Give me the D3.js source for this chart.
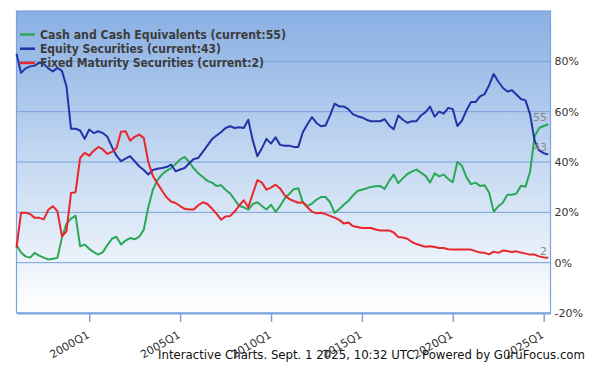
<!DOCTYPE html>
<html>
<head>
<meta charset="utf-8">
<script src="https://cdn.jsdelivr.net/npm/d3@7"></script>
<style>
  body { margin: 0; background: #fff; }
  svg { display: block; font-family: "DejaVu Sans", sans-serif; }
</style>
</head>
<body>
<div id="chart"></div>
<script>
const width = 600, height = 365;
const plotLeft = 16.5, plotRight = 550.5, plotTop = 11, plotBottom = 313;

// quarterly, 1996Q1 .. 2025Q2
const startYear = 1996;
const quarters = d3.range(118).map(i => (startYear + Math.floor(i / 4)) + "Q" + (i % 4 + 1));

const cash = [7,4,2.5,2,3.9,2.8,2,1.3,1.6,1.9,
  10,15.5,17.5,18.7,6.5,7.2,5.5,4.2,3.2,4.2,
  7,9.5,10.3,7.2,8.8,9.8,9.3,10.3,13.1,22,
  29,32.8,35,36.5,37.6,39.2,41,42,40,37.5,
  35.5,34,32.5,31.8,30.5,30.8,29,27.5,25,22.5,
  22,21.1,23.3,24,22.5,21.1,23,20.2,22.5,25.5,
  27.3,29.2,29.6,24,22.5,23.5,25,26.1,26.1,24,
  19.8,21.2,23,24.5,26.6,28.5,29,29.5,30.1,30.4,
  30.5,29.3,32.5,35,31.6,33.5,35.2,36.2,37,35.8,
  34.5,31.8,35.5,34.3,35,33.2,32,40,38.5,34,
  31.2,31.8,30.5,30.8,27.8,20.3,22.4,23.8,27,27,
  27.5,30.6,30.2,36,50.2,53.5,54.3,55];

const equity = [83,75.4,77.2,78,78.3,79.5,79,77.2,76,77.4,
  76.2,70,53.2,53.2,52.5,49.2,52.9,51.5,52.2,51.5,
  50,46,42.5,40.3,41.3,42.3,40.3,38.3,36.8,35,
  36.8,37.3,37.6,38,39,36.3,37,37.6,39.5,41.2,
  41.6,44,46.5,49,50.5,51.8,53.5,54.2,53.5,53.8,
  53.5,56.8,48.5,42.3,45.5,49.2,47.3,49.8,46.8,46.5,
  46.5,46,46,51.8,55,57.8,55.5,54.2,54.5,58.5,
  63.2,62.1,62.1,61,59,58.2,57.7,56.8,56.2,56.2,
  56.2,57,54.5,53,58.5,56.8,55.6,56.2,56.2,58.5,
  59.8,62,58,60,59.2,61.5,61,54.3,56.4,60.5,
  63.8,63.8,66.1,67,70.5,75,72,69.5,68,68.5,
  66.8,65,64.5,59,48.5,44.6,43.5,43];

const fixed = [6,19.8,19.8,19.3,17.8,17.8,17.2,21,22.4,20.5,
  10.5,12.5,27.7,28,41.6,43.6,42.5,44.5,46,45,
  43.2,44,45.5,52,52.2,48.5,50,50.9,49.6,40,
  34.5,31.5,28.7,26,24.3,23.7,22.5,21.4,21.1,21.1,
  22.8,24,23.3,21.5,19.5,17.1,18.3,18.5,20.3,22.7,
  24.8,22,27.5,32.8,31.8,29,29.8,31,29.5,26.8,
  25.3,24.5,23.8,24,22,20.3,19.6,19.8,19.3,18.6,
  17.9,17,15.6,16,14.6,14.2,13.8,13.8,13.8,13.2,
  12.8,12.8,12.8,12,10.2,10,9.5,8.2,7.4,6.8,
  6.3,6.5,6.2,5.8,5.8,5.3,5.2,5.2,5.2,5.2,
  5.2,4.6,4,3.9,3.3,4.4,3.9,4.8,4.6,4.2,
  4.5,4,3.6,3.2,3.2,2.5,2.1,2];

const seriesNames = ["Cash and Cash Equivalents", "Equity Securities", "Fixed Maturity Securities"];
const seriesColors = ["#2aa855", "#2233a8", "#e8272b"];
const seriesValues = [cash, equity, fixed];
const yTicks = [-20, 0, 20, 40, 60, 80];
const xTickLabels = ["2000Q1", "2005Q1", "2010Q1", "2015Q1", "2020Q1", "2025Q1"];
const footer = "Interactive Charts. Sept. 1 2025, 10:32 UTC. Powered by GuruFocus.com";

const x = d3.scaleLinear().domain([0, 117.5]).range([plotLeft, plotRight]);
const y = d3.scaleLinear().domain([-20, 100]).range([plotBottom, plotTop]);

const svg = d3.select("#chart").append("svg")
  .attr("width", width).attr("height", height);

const grad = svg.append("defs").append("linearGradient")
  .attr("id", "bg").attr("x1", 0).attr("y1", 0).attr("x2", 0).attr("y2", 1);
grad.append("stop").attr("offset", "0%").attr("stop-color", "#89afe2");
grad.append("stop").attr("offset", "55%").attr("stop-color", "#cbddf3");
grad.append("stop").attr("offset", "100%").attr("stop-color", "#ffffff");

svg.append("rect")
  .attr("x", plotLeft).attr("y", plotTop)
  .attr("width", plotRight - plotLeft).attr("height", plotBottom - plotTop)
  .attr("fill", "url(#bg)")
  .attr("stroke", "#7ba3dc").attr("stroke-width", 1.2);

// grid lines
svg.append("g").selectAll("line")
  .data(yTicks.filter(d => d > -20))
  .join("line")
  .attr("x1", plotLeft).attr("x2", plotRight)
  .attr("y1", d => y(d)).attr("y2", d => y(d))
  .attr("stroke", "#78a0da").attr("stroke-width", 1);

// right axis labels
svg.append("g").selectAll("text")
  .data(yTicks)
  .join("text")
  .attr("x", plotRight + 4).attr("y", d => y(d) + 4)
  .attr("font-size", 11).attr("fill", "#333")
  .text(d => d + "%");

// bottom axis
const xAxis = d3.axisBottom(x)
  .tickValues(xTickLabels.map(l => quarters.indexOf(l)))
  .tickSize(9).tickSizeOuter(0).tickFormat("");
const gx = svg.append("g").attr("transform", `translate(0,${plotBottom})`).call(xAxis);
gx.select(".domain").attr("stroke", "#7ba3dc").attr("stroke-width", 2);
gx.selectAll(".tick line").attr("stroke", "#7ba3dc").attr("stroke-width", 1.5);

svg.append("g").selectAll("text")
  .data(xTickLabels)
  .join("text")
  .attr("transform", d => `translate(${x(quarters.indexOf(d)) + 1},${plotBottom + 24}) rotate(-30)`)
  .attr("text-anchor", "end")
  .attr("font-size", 11).attr("fill", "#333")
  .text(d => d);

// lines
const line = d3.line().x((d, i) => x(i)).y(d => y(d));
svg.append("g").selectAll("path")
  .data(seriesValues)
  .join("path")
  .attr("d", line)
  .attr("fill", "none")
  .attr("stroke", (d, i) => seriesColors[i])
  .attr("stroke-width", 2)
  .attr("stroke-linejoin", "round");

// end value labels
svg.append("g").selectAll("text")
  .data(seriesValues)
  .join("text")
  .attr("x", 547)
  .attr("y", d => y(d[d.length - 1]) - 3)
  .attr("text-anchor", "end")
  .attr("font-size", 11).attr("fill", "#888")
  .text(d => d3.format("d")(d[d.length - 1]));

// legend
const legendWidths = [246, 181, 224];
const legend = svg.append("g").selectAll("g")
  .data(seriesNames)
  .join("g")
  .attr("transform", (d, i) => `translate(20,${34.5 + i * 14.2})`);
legend.append("line")
  .attr("x1", 0).attr("x2", 15)
  .attr("stroke", (d, i) => seriesColors[i]).attr("stroke-width", 2.5);
legend.append("text")
  .attr("x", 20).attr("y", 4.5)
  .attr("font-size", 11.5).attr("font-weight", "bold").attr("fill", "#3c3c3c")
  .attr("textLength", (d, i) => legendWidths[i]).attr("lengthAdjust", "spacingAndGlyphs")
  .text((d, i) => `${d} (current:${d3.format("d")(seriesValues[i][seriesValues[i].length - 1])})`);

// footer
svg.append("text")
  .attr("x", 158).attr("y", 359)
  .attr("font-size", 12).attr("fill", "#111")
  .attr("textLength", 427).attr("lengthAdjust", "spacingAndGlyphs")
  .text(footer);
</script>
</body>
</html>
